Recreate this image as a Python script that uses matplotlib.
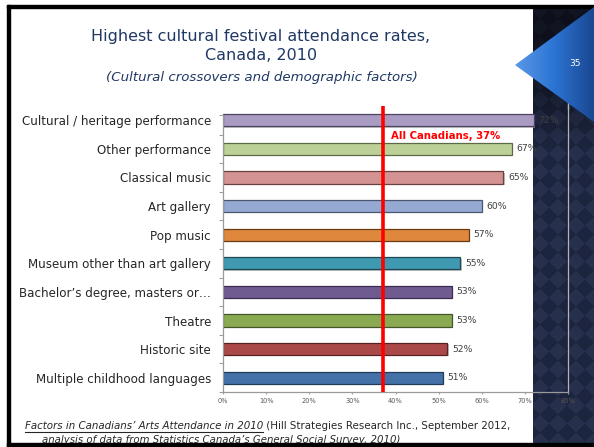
import numpy as np
import matplotlib.pyplot as plt
from matplotlib.patches import Polygon, Rectangle
from matplotlib.colors import LinearSegmentedColormap
import matplotlib.patheffects as pe

plt.rcParams['font.family'] = ['DejaVu Sans']

# Festival attendance rates by group (%), top to bottom
categories = ['Cultural / heritage performance', 'Other performance',
              'Classical music', 'Art gallery', 'Pop music',
              'Museum other than art gallery', 'Bachelor\u2019s degree, masters or\u2026',
              'Theatre', 'Historic site', 'Multiple childhood languages']
rates = [72, 67, 65, 60, 57, 55, 53, 53, 52, 51]
all_canadians = 37
xticks = [0, 10, 20, 30, 40, 50, 60, 70, 80]

face = ['#a99bc2', '#bcd097', '#d39392', '#95a9d3', '#df873d',
        '#3f9ab1', '#705b91', '#8aaa51', '#ab4949', '#4571a9']
edge = ['#4b4360', '#5a6a45', '#6a4040', '#4a5570', '#6a3a15',
        '#1f4a55', '#3a2c50', '#44552a', '#552222', '#203a58']

W, H = 594, 447
fig = plt.figure(figsize=(W / 100, H / 100), dpi=100)

# slide background in pixel coordinates
bg = fig.add_axes([0, 0, 1, 1], zorder=0)
bg.set_xlim(0, W)
bg.set_ylim(H, 0)
bg.axis('off')

# dark diamond-textured side panel
px0, py0, py1 = 533, 5, 443
yy, xx = np.mgrid[py0:py1, px0:W]
p = 18
check = (np.floor((xx + yy) / p) + np.floor((xx - yy) / p)) % 2
c1 = np.array([0.115, 0.145, 0.245])
c2 = np.array([0.150, 0.185, 0.300])
img = np.where(check[..., None] == 0, c1, c2)
fade = np.clip(0.45 + (yy - 60) / 160.0, 0.45, 1.0)[..., None]
img = img * fade
bg.imshow(img, extent=(px0, W, py1, py0), interpolation='gaussian',
          aspect='auto', zorder=1)

# frame of the slide
bg.add_patch(Rectangle((7, 5), W - 7, 3, color='black', zorder=3))
bg.add_patch(Rectangle((7, 5), 3, H - 5, color='black', zorder=3))
bg.add_patch(Rectangle((7, 443), W - 7, 4, color='black', zorder=6))

# plot border reaching up behind the page marker
bg.plot([568, 568], [100, 108], color='#b4b4b4', lw=1, zorder=2)

# page number marker
tri = Polygon([[515, 65], [W, 7], [W, 122]], closed=True,
              facecolor='none', edgecolor='none', zorder=4)
bg.add_patch(tri)
blues = LinearSegmentedColormap.from_list('b', ['#5a98e6', '#2b74d3', '#1b4892'])
grad = np.linspace(0, 1, 100)[None, :]
gim = bg.imshow(grad, cmap=blues, extent=(515, W, 122, 7), aspect='auto', zorder=4)
gim.set_clip_path(tri)
bg.text(575, 64, '35', color='white', fontsize=6.5, ha='center', va='center', zorder=5)

# titles
navy = '#1f3864'
bg.text(261, 36, 'Highest cultural festival attendance rates,', color=navy,
        fontsize=11.5, ha='center', va='center', zorder=3)
bg.text(261, 56, 'Canada, 2010', color=navy, fontsize=11.5,
        ha='center', va='center', zorder=3)
bg.text(262, 77, '(Cultural crossovers and demographic factors)', color=navy,
        fontsize=9.6, style='italic', ha='center', va='center', zorder=3)

# source note
fig.canvas.draw()
rend = fig.canvas.get_renderer()
t1 = bg.text(25, 426, 'Factors in Canadians\u2019 Arts Attendance in 2010', color='#262626',
             fontsize=7.4, style='italic', ha='left', va='center', zorder=3)
ext = t1.get_window_extent(rend)
x_end = ext.x1
bg.plot([25, x_end], [432, 432], color='#262626', lw=0.8, zorder=3)
bg.text(x_end, 426, ' (Hill Strategies Research Inc., September 2012,', color='#262626',
        fontsize=7.4, ha='left', va='center', zorder=3)
bg.text(42, 440, 'analysis of data from Statistics Canada\u2019s General Social Survey, 2010)',
        color='#262626', fontsize=7.3, style='italic', ha='left', va='center', zorder=3)

# bar chart
left, right, top, bottom = 223, 568, 106, 392
ax = fig.add_axes([left / W, (H - bottom) / H, (right - left) / W, (bottom - top) / H],
                  zorder=2)
ax.set_facecolor('none')
n = len(categories)
ypos = np.arange(n)
bars = ax.barh(ypos, rates, height=0.42, color=face, edgecolor=edge, linewidth=0.9)
for b in bars:
    b.set_path_effects([pe.SimplePatchShadow(offset=(1, -1), shadow_rgbFace='#999999',
                                             alpha=0.6), pe.Normal()])
for y, v in zip(ypos, rates):
    ax.text(v + 1.1, y, f'{v}%', va='center', ha='left', fontsize=6.7, color='#404040')

ax.axvline(all_canadians, ymin=0, ymax=1.0, color='red', lw=2.6, zorder=3)
ax.text(all_canadians + 2, 0.55, f'All Canadians, {all_canadians}%', color='red',
        fontsize=7.3, fontweight='bold', ha='left', va='center')

ax.set_xlim(0, 80)
ax.set_ylim(n - 0.5, -0.5)
ax.set_xticks(xticks)
ax.set_xticklabels([f'{t}%' for t in xticks], fontsize=4.8, color='#595959')
ax.set_yticks(ypos)
ax.set_yticklabels(categories, fontsize=8.6, color='#262626')
ax.set_yticks(list(np.arange(0.5, n, 1)) + [-0.18], minor=True)
ax.tick_params(axis='y', which='major', length=0, pad=8.6)
ax.tick_params(axis='y', which='minor', length=3, color='#a0a0a0', width=0.8)
ax.tick_params(axis='x', length=1.5, color='#a0a0a0', width=0.8, pad=3)

ax.spines['top'].set_visible(False)
ax.spines['left'].set_bounds(n - 0.5, -0.18)
for s in ['left', 'bottom']:
    ax.spines[s].set_color('#9a9a9a')
    ax.spines[s].set_linewidth(0.9)
ax.spines['right'].set_color('#b4b4b4')
ax.spines['right'].set_linewidth(0.9)

fig.savefig('out.png', dpi=100)
